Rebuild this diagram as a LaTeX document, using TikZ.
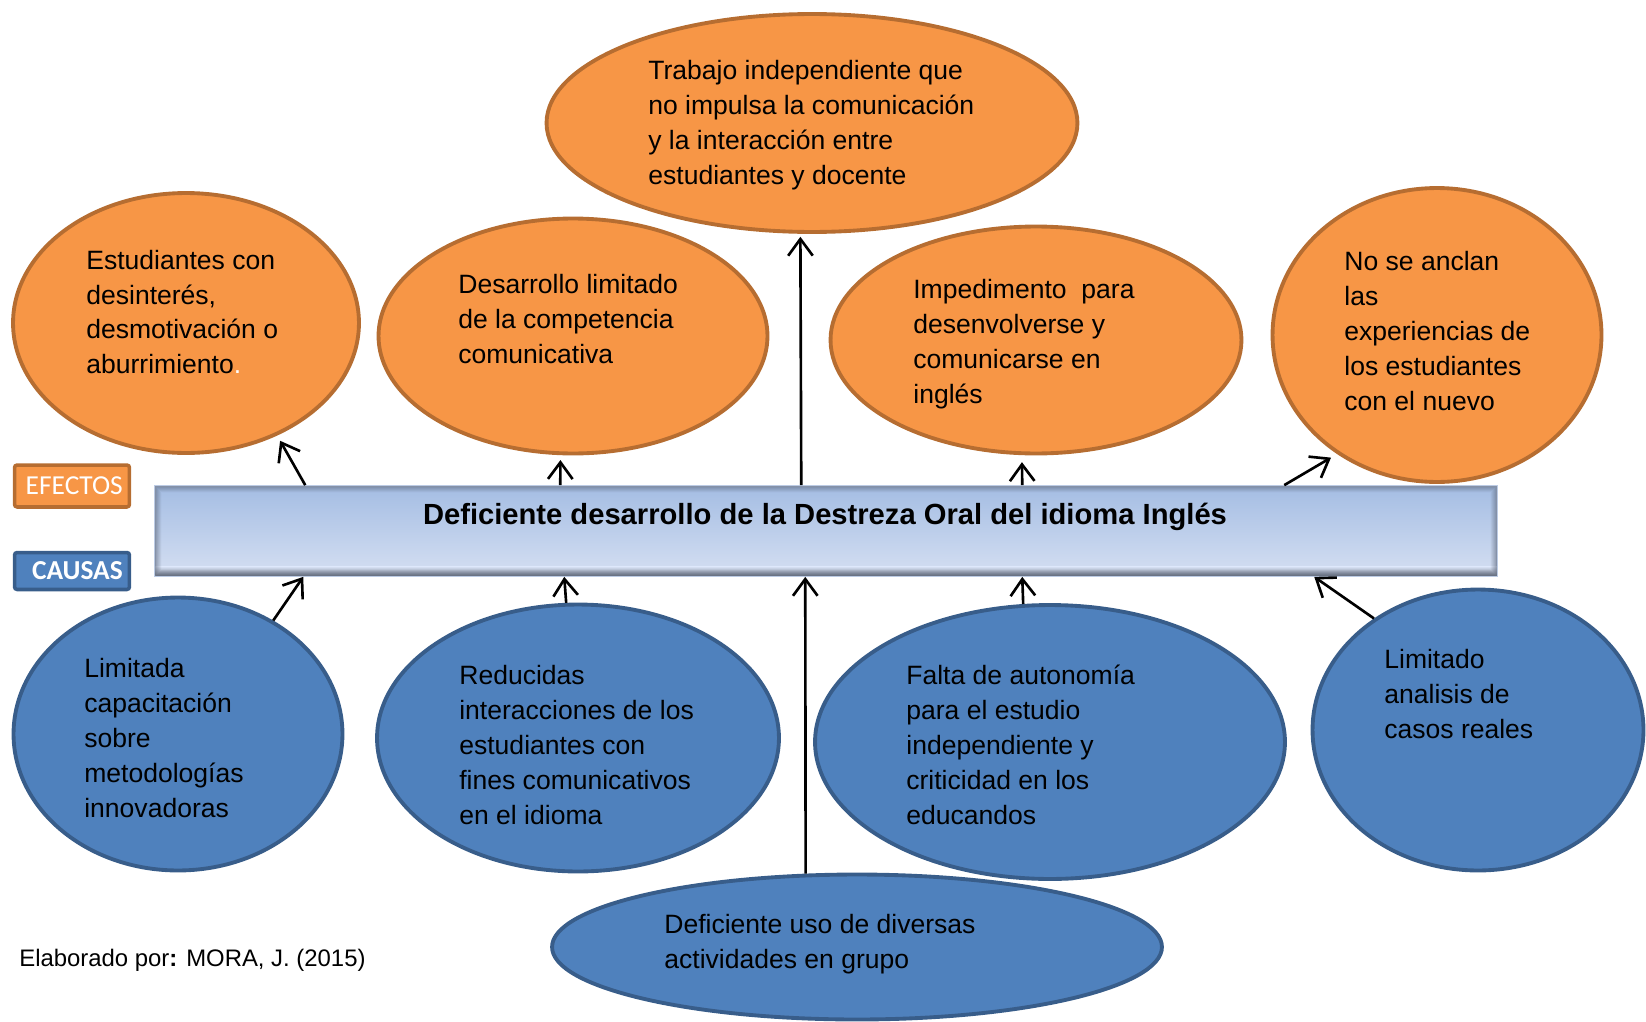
\documentclass[tikz,border=0pt]{standalone}
\usepackage{fontspec}
\setmainfont{Liberation Sans}
\newfontfamily\calibri{Carlito}
\usepackage{xcolor}
\usetikzlibrary{calc, shapes.geometric, arrows.meta}

\definecolor{efecto}{HTML}{F79646}
\definecolor{efectoborde}{HTML}{B66D31}
\definecolor{causa}{HTML}{4F81BD}
\definecolor{causaborde}{HTML}{385D8A}
\definecolor{barraarriba}{HTML}{A4BDE3}
\definecolor{barraabajo}{HTML}{D5DFF2}
\definecolor{barraborde}{HTML}{BCCBE4}
\definecolor{barrasombra}{HTML}{566073}

\begin{document}
\begin{tikzpicture}[x = 0.02cm, y = -0.02cm,
  efecto/.style = {ellipse, draw = efectoborde, fill = efecto, line width = 2.2pt, inner sep = 0pt},
  causa/.style = {ellipse, draw = causaborde, fill = causa, line width = 2.2pt, inner sep = 0pt},
  texto/.style = {anchor = west, align = left, inner sep = 0pt, font = \fontsize{15.1}{19.9}\selectfont},
  flecha/.style = {-{Straight Barb[length = 9.5pt, width = 14pt]}, line width = 1.5pt},
  etiqueta/.style = {rounded corners = 1.5pt, line width = 2pt, text = white, minimum width = 2.3cm, inner sep = 0pt}]

  \useasboundingbox (0,0) rectangle (1646,1021);

  % Problem bar
  \node[draw = barraborde, line width = 1pt, top color = barraarriba, bottom color = barraabajo,
        minimum width = 26.84cm, minimum height = 1.8cm, inner sep = 0pt] (bar) at (826,531) {};
  \shade[top color = barraabajo, bottom color = barrasombra!80]
    ([shift = {(1,-10)}]bar.south west) rectangle ([shift = {(-1,-1)}]bar.south east);
  \foreach \i [evaluate = \i as \op using 0.62-0.085*\i] in {1,...,7}
    \draw[barrasombra, line width = 0.02cm, opacity = \op]
      ([shift = {(\i,\i)}]bar.north west) rectangle ([shift = {(-\i,-\i)}]bar.south east);
  \node[inner sep = 0pt, font = \bfseries\fontsize{16.6}{20}\selectfont] (tit) at (825,517)
    {Deficiente desarrollo de la Destreza Oral del idioma Inglés};

  % Side labels
  \node[etiqueta, fill = efecto, draw = efectoborde, minimum height = 0.84cm,
        font = \calibri\fontsize{15.6}{18}\selectfont] (efectos) at (72,486) {\,EFECTOS};
  \node[etiqueta, fill = causa, draw = causaborde, minimum height = 0.74cm,
        font = \calibri\bfseries\fontsize{15.6}{18}\selectfont] (causas) at (72,571) {\ \,CAUSAS};

  % Effects
  \node[efecto, minimum width = 6.92cm, minimum height = 5.2cm] (e1) at (186,323) {};
  \node[efecto, minimum width = 7.78cm, minimum height = 4.7cm] (e2) at (573,336) {};
  \node[efecto, minimum width = 10.62cm, minimum height = 4.36cm] (e3) at (812,123) {};
  \node[efecto, minimum width = 8.22cm, minimum height = 4.54cm] (e4) at (1036,340) {};
  \node[efecto, minimum width = 6.58cm, minimum height = 5.88cm] (e5) at (1437,335) {};

  \node[texto] (e1t) at (86,312) {Estudiantes con\\desinterés,\\desmotivación o\\aburrimiento\textcolor{white}{.}};
  \node[texto] (e2t) at (458,319) {Desarrollo limitado\\de la competencia\\comunicativa};
  \node[texto] (e3t) at (648,125) {Trabajo independiente que\\no impulsa la comunicación\\y la interacción entre\\estudiantes y docente};
  \node[texto] (e4t) at (913,344) {Impedimento~ para\\desenvolverse y\\comunicarse en\\inglés};
  \node[texto] (e5t) at (1344,331) {No se anclan\\las\\experiencias de\\los estudiantes\\con el nuevo};

  % Causes
  \node[causa, minimum width = 6.58cm, minimum height = 5.46cm] (c1) at (178,734) {};
  \node[causa, minimum width = 8.04cm, minimum height = 5.34cm] (c2) at (578,738) {};
  \node[causa, minimum width = 9.4cm, minimum height = 5.48cm] (c3) at (1050,742) {};
  \node[causa, minimum width = 6.62cm, minimum height = 5.62cm] (c4) at (1478,730) {};
  \node[causa, minimum width = 12.2cm, minimum height = 2.9cm] (c5) at (857,947) {};

  \node[texto] (c1t) at (84,738) {Limitada\\capacitación\\sobre\\metodologías\\innovadoras};
  \begin{scope}
    \clip (400,610) rectangle (780,824);
    \node[texto] (c2t) at (459,745) {Reducidas\\interacciones de los\\estudiantes con\\fines comunicativos\\en el idioma};
  \end{scope}
  \node[texto] (c3t) at (906,745) {Falta de autonomía\\para el estudio\\independiente y\\criticidad en los\\educandos};
  \node[texto] (c4t) at (1384,694) {Limitado\\analisis de\\casos reales};
  \node[texto] (c5t) at (664,944) {Deficiente uso de diversas\\actividades en grupo};

  % Arrows to effects
  \draw[flecha, shorten > = 3.4pt] ($(bar.north west)+(151,0)$) -- (e1.309);
  \draw[flecha, shorten > = 2.8pt] ($(bar.north west)+(406,0)$) -- (e2.264.2);
  \draw[flecha, shorten > = 1.7pt] ($(bar.north west)+(647,0)$) -- (e3.264.8);
  \draw[flecha, shorten > = 4pt] ($(bar.north west)+(868,0)$) -- (e4.263.5);
  \draw[flecha, shorten > = 4pt] ($(bar.north west)+(1130,0)$) -- (e5.230.2);

  % Arrows from causes
  \draw[flecha] (c1.50.3) -- ($(bar.south west)+(149,0)$);
  \draw[flecha] (c2.95.5) -- ($(bar.south west)+(410,0)$);
  \draw[flecha] (c5.125.4) -- ($(bar.south west)+(651,0)$);
  \draw[flecha] (c3.101.1) -- ($(bar.south west)+(868,0)$);
  \draw[flecha] (c4.133.9) -- ($(bar.south west)+(1160,0)$);

  % Source
  \node[anchor = west, inner sep = 0pt, font = \fontsize{13.6}{16}\selectfont] (fuente) at (19,960)
    {Elaborado por\textbf{:} MORA, J. (2015)};

\end{tikzpicture}
\end{document}
